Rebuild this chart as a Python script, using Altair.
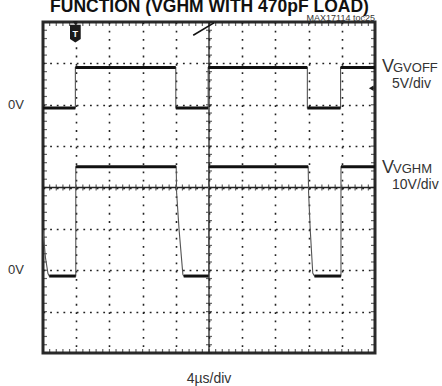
import altair as alt
import pandas as pd
import numpy as np

# ---- data (volts vs microseconds) ----
t_gvoff = [0, 3.9, 3.9, 16.0, 16.0, 19.9, 19.9, 31.85, 31.85, 35.85, 35.85, 40]
v_gvoff = [-0.4, -0.4, 4.5, 4.5, -0.4, -0.4, 4.5, 4.5, -0.4, -0.4, 4.5, 4.5]

t_vghm = [0, 0.3, 0.6, 0.75, 3.95, 3.95, 16.05, 16.1, 16.4, 16.85, 16.95, 19.95, 19.95,
          31.95, 32.0, 32.2, 32.5, 32.7, 35.9, 35.9, 40]
v_vghm = [9.7, 3, -0.8, -1.4, -1.4, 25, 25, 18.7, 9.7, -1.0, -1.4, -1.4, 25,
          25, 18.7, 9.7, -0.7, -1.4, -1.4, 25, 25]

series_names = ["VGVOFF", "VVGHM"]
ground_div = [2, -2]          # 0V reference position (divisions)
volts_per_div = [5, 10]

FONT = "Liberation Sans Narrow, Arial Narrow, Liberation Sans, sans-serif"

# ---- build tables ----
rows, segs = [], []
for name, ts, vs, g, vpd in zip(series_names, [t_gvoff, t_vghm], [v_gvoff, v_vghm],
                                ground_div, volts_per_div):
    for i, (t, v) in enumerate(zip(ts, vs)):
        rows.append({"series": name, "i": i, "t": t, "d": g + v / vpd})
    for i in range(len(ts) - 1):
        if vs[i] == vs[i + 1] and ts[i + 1] > ts[i]:
            segs.append({"series": name, "t1": ts[i], "t2": ts[i + 1], "d": g + vs[i] / vpd})
trace = pd.DataFrame(rows)
plateau = pd.DataFrame(segs)

xs = alt.Scale(domain=[0, 40], nice=False, zero=False)
ys = alt.Scale(domain=[-4, 4], nice=False, zero=False)
xaxis = alt.Axis(values=list(range(4, 40, 4)), grid=True, gridDash=[1.8, 6.475],
                 gridColor="#222", gridWidth=1.6, labels=False, ticks=False,
                 domain=False, title=None)
yaxis = alt.Axis(values=list(range(-3, 4)), grid=True, gridDash=[1.8, 4.84],
                 gridColor="#222", gridWidth=1.6, labels=False, ticks=False,
                 domain=False, title=None)


def X(f):
    return alt.X(f, type="quantitative", scale=xs, axis=xaxis)


def Y(f):
    return alt.Y(f, type="quantitative", scale=ys, axis=yaxis)


# center crosshair
one = pd.DataFrame({"t": [20], "d": [0]})
vcenter = alt.Chart(one).mark_rule(color="#222", strokeWidth=1.3).encode(x=X("t"))
hcenter = alt.Chart(one).mark_rule(color="#222", strokeWidth=1.3).encode(y=Y("d"))

# minor ticks along centre lines and border
tx = np.round(np.arange(0, 40.001, 0.8), 3)
ty = np.round(np.arange(-4, 4.001, 0.2), 3)
htick = pd.DataFrame({"t": np.concatenate([tx, tx, tx]),
                      "d": [0] * len(tx) + [4] * len(tx) + [-4] * len(tx),
                      "k": ["c"] * len(tx) + ["b"] * (2 * len(tx))})
vtick = pd.DataFrame({"d": np.concatenate([ty, ty, ty]),
                      "t": [20] * len(ty) + [0] * len(ty) + [40] * len(ty),
                      "k": ["c"] * len(ty) + ["b"] * (2 * len(ty))})
ticks_c_h = alt.Chart(htick[htick.k == "c"]).mark_tick(orient="vertical", size=6, thickness=1.2, color="#222").encode(x=X("t"), y=Y("d"))
ticks_b_h = alt.Chart(htick[htick.k == "b"]).mark_tick(orient="vertical", size=8, thickness=1.2, color="#222", clip=True).encode(x=X("t"), y=Y("d"))
ticks_c_v = alt.Chart(vtick[vtick.k == "c"]).mark_tick(orient="horizontal", size=6, thickness=1.2, color="#222").encode(x=X("t"), y=Y("d"))
ticks_b_v = alt.Chart(vtick[vtick.k == "b"]).mark_tick(orient="horizontal", size=8, thickness=1.2, color="#222", clip=True).encode(x=X("t"), y=Y("d"))

# traces
edges = alt.Chart(trace).mark_line(color="#555", strokeWidth=1.1, clip=True).encode(
    x=X("t"), y=Y("d"), detail="series:N", order="i:Q")
levels = alt.Chart(plateau).mark_rule(color="#111", strokeWidth=3, clip=True).encode(
    x=X("t1"), x2="t2", y=Y("d"), detail="series:N")

# markers
diag = pd.DataFrame({"t1": [18.1], "t2": [20.6], "d1": [3.68], "d2": [3.98]})
diag_l = alt.Chart(diag).mark_rule(color="#111", strokeWidth=1.6).encode(
    x=X("t1"), x2="t2", y=Y("d1"), y2="d2")
trig = pd.DataFrame({"t": [3.9], "d": [3.72], "lab": ["T"]})
trig_box = alt.Chart(trig).mark_point(
    shape="M-0.6,-1L0.6,-1L0.6,0.6L0,1L-0.6,0.6Z", filled=True, opacity=1,
    color="#1a1a1a", size=320).encode(x=X("t"), y=Y("d"))
trig_tip = alt.Chart(pd.DataFrame({"t": [3.9], "d": [3.97]})).mark_point(
    shape="triangle-down", filled=True, opacity=1, color="#1a1a1a", size=25).encode(x=X("t"), y=Y("d"))
trig_t = alt.Chart(trig).mark_text(color="white", fontSize=9, fontWeight="bold",
                                   font="Liberation Sans", baseline="middle").encode(
    x=X("t"), y=Y("d"), text="lab:N")
lvl = pd.DataFrame({"t": [39.55], "d": [2.4]})
lvl_mark = alt.Chart(lvl).mark_point(shape="triangle-left", filled=True, opacity=1,
                                     color="#1a1a1a", size=30).encode(x=X("t"), y=Y("d"))

# text
zero_df = pd.DataFrame({"d": ground_div, "lab": ["0V", "0V"]})
zero_txt = alt.Chart(zero_df).mark_text(align="left", baseline="middle", fontSize=13,
                                        font=FONT, color="#333").encode(
    x=alt.value(-35), y=Y("d"), text="lab:N")


def txt(s, x, y, size, align="left", weight="normal", color="#333"):
    return alt.Chart(pd.DataFrame({"s": [s]})).mark_text(
        align=align, baseline="alphabetic", fontSize=size, font=FONT,
        fontWeight=weight, color=color).encode(
        x=alt.value(x), y=alt.value(y), text="s:N")


texts = [
    txt("FUNCTION (VGHM WITH 470pF LOAD)", 166.5, -10.5, 17.5, "center", "bold", "#111"),
    txt("MAX17114 toc25", 332, -1.5, 9, "right"),
    txt("V", 339, 50, 18),
    txt("GVOFF", 350, 50, 13),
    txt("5V/div", 349, 66, 14),
    txt("V", 339, 151, 18),
    txt("VGHM", 350, 151, 13),
    txt("10V/div", 349, 167, 14),
    txt("4µs/div", 166, 361, 14, "center"),
]

chart = alt.layer(
    vcenter, hcenter, ticks_c_h, ticks_b_h, ticks_c_v, ticks_b_v,
    edges, levels, diag_l, trig_box, trig_tip, trig_t, lvl_mark, zero_txt, *texts
).properties(
    width=332, height=331,
    autosize=alt.AutoSizeParams(type="none"),
    padding={"left": 43, "top": 22, "right": 67, "bottom": 33},
    background="white",
).configure_view(stroke="#2a2a2a", strokeWidth=3)

chart.save("out.html", embed_options={"renderer": "svg", "actions": False})
